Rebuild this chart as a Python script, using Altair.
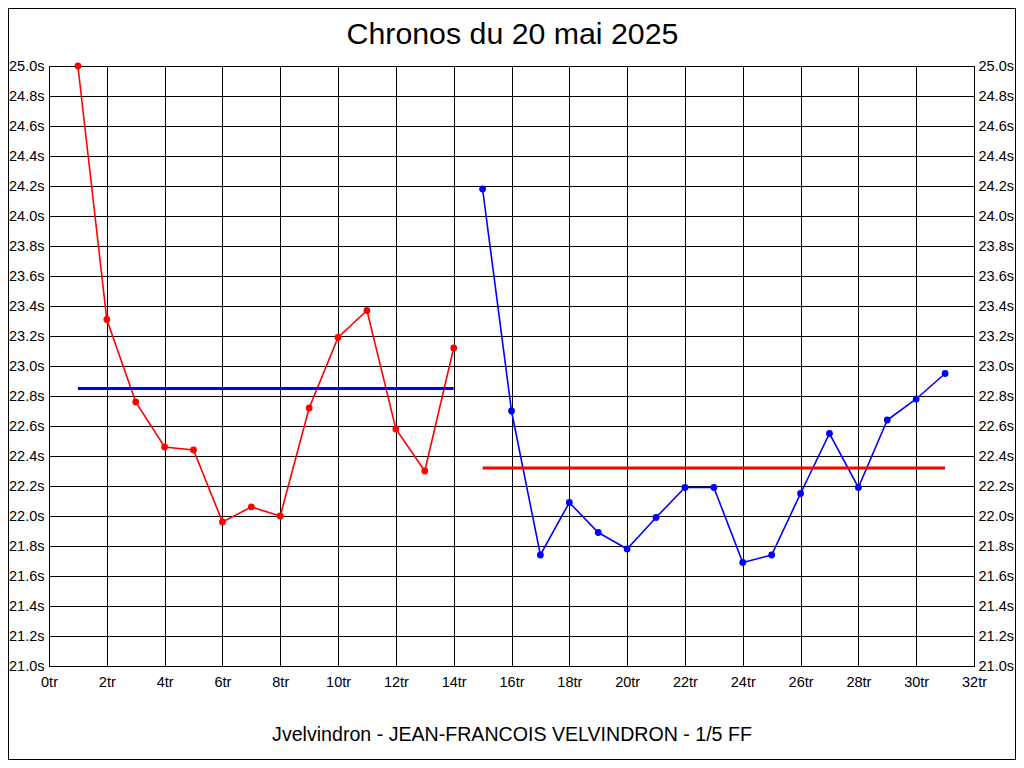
import altair as alt
import pandas as pd

# ---- data ----
laps_red = list(range(1, 15))
times_red = [25.00, 23.31, 22.76, 22.46, 22.44, 21.96, 22.06, 22.00, 22.72, 23.19, 23.37, 22.58, 22.30, 23.12]
laps_blue = list(range(15, 32))
times_blue = [24.18, 22.70, 21.74, 22.09, 21.89, 21.78, 21.99, 22.19, 22.19, 21.69, 21.74, 22.15, 22.55, 22.19, 22.64, 22.78, 22.95]
avg_start = [1, 15]
avg_end = [14, 31]
avg_value = [22.85, 22.32]
avg_color = ["#0000FF", "#FF0000"]
x_ticks = list(range(0, 33, 2))
y_ticks = [round(21.0 + 0.2 * i, 1) for i in range(21)]

title_text = "Chronos du 20 mai 2025"
bottom_text = "Jvelvindron - JEAN-FRANCOIS VELVINDRON - 1/5 FF"

red_df = pd.DataFrame({"lap": laps_red, "t": times_red})
blue_df = pd.DataFrame({"lap": laps_blue, "t": times_blue})
avg_df = pd.DataFrame({"x1": avg_start, "x2": avg_end, "y": avg_value, "c": avg_color})

FONT = "Liberation Sans"
xscale = alt.Scale(domain=[0, 32], nice=False, zero=False)
yscale = alt.Scale(domain=[21, 25], nice=False, zero=False)

xaxis = alt.Axis(
    values=x_ticks, labelExpr="datum.value + 'tr'", grid=True, ticks=False, domain=False,
    labelFlush=False, labelOverlap=False, labelPadding=9,
    title=bottom_text, titleFontSize=19.6, titleFontWeight="normal", titleFont=FONT,
    titleColor="black", titleBaseline="middle", titleY=68,
)
yaxis_left = alt.Axis(
    values=y_ticks, labelExpr="format(datum.value, '.1f') + 's'", grid=True, ticks=False,
    domain=False, labelFlush=False, labelOverlap=False, labelPadding=5, title=None,
    orient="left",
)
yaxis_right = alt.Axis(
    values=y_ticks, labelExpr="format(datum.value, '.1f') + 's'", grid=False, ticks=False,
    domain=False, labelFlush=False, labelOverlap=False, labelPadding=4, title=None,
    orient="right", labelAlign="left",
)

X = alt.X("lap:Q", scale=xscale, axis=xaxis)

red_line = alt.Chart(red_df).mark_line(color="#FF0000", strokeWidth=1.6).encode(
    x=X, y=alt.Y("t:Q", scale=yscale, axis=yaxis_left)
)
red_pts = alt.Chart(red_df).mark_circle(color="#FF0000", size=46, opacity=1).encode(
    x=X, y=alt.Y("t:Q", scale=yscale, axis=None)
)
blue_line = alt.Chart(blue_df).mark_line(color="#0000FF", strokeWidth=1.6).encode(
    x=X, y=alt.Y("t:Q", scale=yscale, axis=yaxis_right)
)
blue_pts = alt.Chart(blue_df).mark_circle(color="#0000FF", size=46, opacity=1).encode(
    x=X, y=alt.Y("t:Q", scale=yscale, axis=None)
)
avg_rules = alt.Chart(avg_df).mark_rule(strokeWidth=3).encode(
    x=alt.X("x1:Q", scale=xscale, axis=xaxis),
    x2="x2:Q",
    y=alt.Y("y:Q", scale=yscale, axis=None),
    color=alt.Color("c:N", scale=None, legend=None),
)
title_mark = alt.Chart(alt.Data(values=[{"t": title_text}])).mark_text(
    font=FONT, fontSize=30.3, color="black", align="center", baseline="middle"
).encode(x=alt.value(463.5), y=alt.value(-31), text="t:N")

frame = alt.Chart(alt.Data(values=[{}])).mark_rect(
    filled=False, stroke="black", strokeWidth=1
).encode(
    x=alt.value(-40.5), x2=alt.value(966.5), y=alt.value(-57.5), y2=alt.value(693.5)
)

chart = (
    alt.layer(red_line, blue_line, avg_rules, red_pts, blue_pts, title_mark, frame)
    .resolve_axis(y="independent")
    .properties(
        width=925, height=600,
        padding={"left": 41, "top": 58, "right": 42, "bottom": 94},
        autosize=alt.AutoSizeParams(type="none"),
        background="white",
    )
    .configure_view(stroke="black", strokeWidth=1)
    .configure_axis(
        labelFont=FONT, labelFontSize=14.5, labelColor="black",
        gridColor="black", gridOpacity=1, gridWidth=1,
    )
)

chart.save("out.html", embed_options={"renderer": "svg", "actions": False})
